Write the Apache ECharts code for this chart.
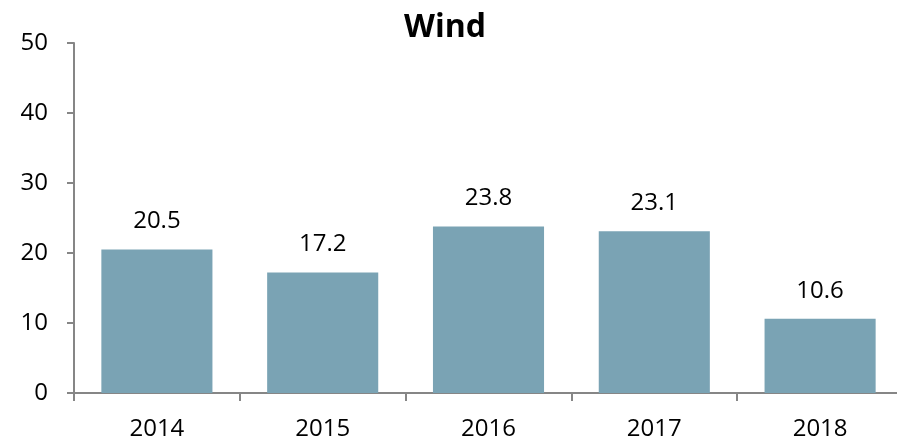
<!DOCTYPE html>
<html>
<head>
<meta charset="utf-8">
<script src="https://cdn.jsdelivr.net/npm/echarts@6/dist/echarts.min.js"></script>
<style>
  html, body { margin: 0; padding: 0; background: #fff; }
  #main { width: 897px; height: 441px; }
</style>
</head>
<body>
<div id="main"></div>
<script>
// data
var years = ['2014', '2015', '2016', '2017', '2018'];
var windValues = [20.5, 17.2, 23.8, 23.1, 10.6];
var yTicks = { min: 0, max: 50, step: 10 };

var chart = echarts.init(document.getElementById('main'));
var font = 'Open Sans';

chart.setOption({
  animation: false,
  title: {
    text: 'Wind',
    left: 440,
    top: 7,
    textAlign: 'center',
    textStyle: { fontFamily: font, fontWeight: 'bold', fontSize: 32, color: '#000' }
  },
  // plot area runs a little past the right edge of the canvas, as in the source
  grid: { left: 74, width: 829, top: 43, bottom: 48, outerBoundsMode: 'none' },
  xAxis: {
    type: 'category',
    data: years,
    axisLine: { lineStyle: { color: '#868686', width: 2 } },
    axisTick: { show: true, length: 8, lineStyle: { color: '#868686', width: 2 } },
    axisLabel: { fontFamily: font, fontSize: 24, color: '#000', margin: 24 }
  },
  yAxis: {
    type: 'value',
    min: yTicks.min,
    max: yTicks.max,
    interval: yTicks.step,
    splitLine: { show: false },
    axisLine: { show: true, lineStyle: { color: '#868686', width: 2 } },
    axisTick: { show: true, length: 7, lineStyle: { color: '#868686', width: 2 } },
    axisLabel: { fontFamily: font, fontSize: 24, color: '#000', margin: 26 }
  },
  series: [{
    type: 'bar',
    data: windValues,
    barWidth: '67%',
    itemStyle: { color: '#7AA3B4' },
    label: {
      show: true,
      position: 'top',
      distance: 16,
      fontFamily: font,
      fontSize: 24,
      color: '#000'
    }
  }]
});
</script>
</body>
</html>
